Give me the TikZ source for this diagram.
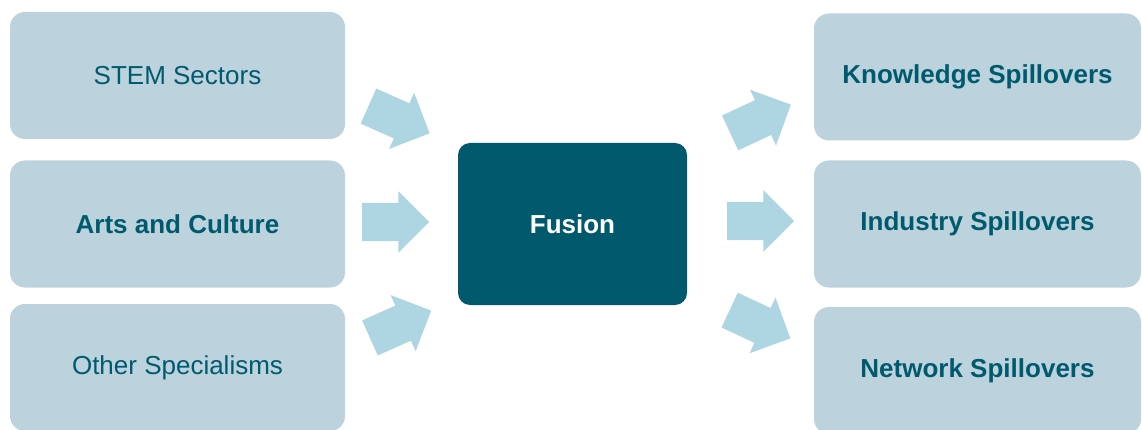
\documentclass[tikz,border=0pt]{standalone}
\usepackage{fontspec}
\setmainfont{Liberation Sans}
\usetikzlibrary{shapes.arrows, positioning}
\definecolor{boxblue}{RGB}{188, 210, 220}
\definecolor{fusionteal}{RGB}{0, 89, 108}
\definecolor{textteal}{RGB}{0, 90, 110}
\definecolor{arrowblue}{RGB}{173, 213, 226}

\begin{document}
\begin{tikzpicture}[
        x=1pt, y=-1pt,
        box/.style={fill=boxblue, rounded corners=15pt, minimum width=335pt, minimum height=127pt, align=center, text=textteal, font=\fontsize{26}{30}\selectfont},
        outbox/.style={box, minimum width=327pt, font=\fontsize{26}{30}\selectfont\bfseries},
        blockarrow/.style={single arrow, fill=arrowblue, minimum height=67pt, inner xsep=0pt, inner ysep=19pt, single arrow head extend=11.5pt}
    ]
        \useasboundingbox (0,0) rectangle (1142,430);
        \clip (0,0) rectangle (1142,430);

        % Inputs
        \node[box] (stem) at (177.5, 75.5) {STEM Sectors};
        \node[box, font=\fontsize{26}{30}\selectfont\bfseries] (arts) at (177.5, 224) {Arts and Culture};
        \node[box] (other) at (177.5, 367.5) {Other Specialisms};

        % Fusion
        \node[fill=fusionteal, rounded corners=12pt, minimum width=229pt, minimum height=162pt, text=white, font=\fontsize{26}{30}\selectfont\bfseries] (fusion) at (572.5, 224) {Fusion};

        % Outputs
        \node[outbox] (knowledge) at (977.5, 77) {Knowledge Spillovers};
        \node[outbox] (industry) at (977.5, 224) {Industry Spillovers};
        \node[outbox] (network) at (977.5, 370.5) {Network Spillovers};

        % Arrows
        \node[blockarrow, rotate=-24] (instem) at (390.3, 115.8) {};
        \node[blockarrow] (inarts) at (386, 222) {};
        \node[blockarrow, rotate=24] (inother) at (391.8, 328.2) {};

        \node[blockarrow, rotate=25] (outknow) at (751.8, 122.8) {};
        \node[blockarrow] (outind) at (751, 221) {};
        \node[blockarrow, rotate=-25] (outnet) at (751.3, 320.2) {};
    \end{tikzpicture}
\end{document}
